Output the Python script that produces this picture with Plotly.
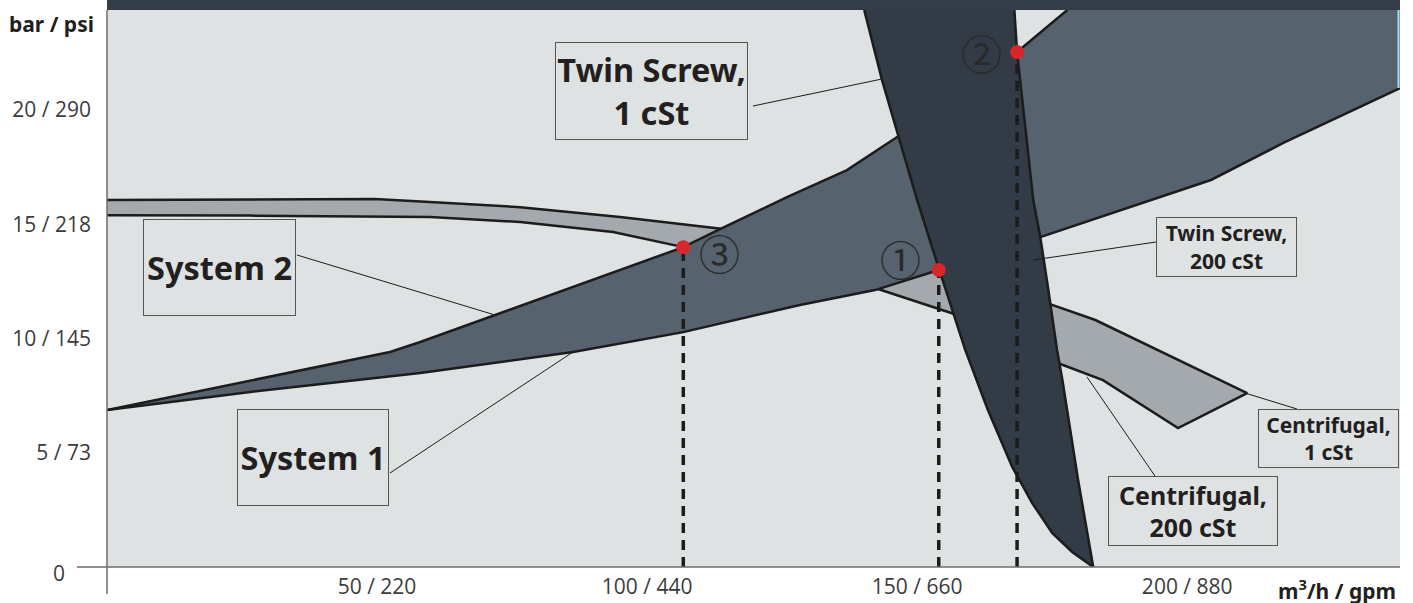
import plotly.graph_objects as go

# ---------------- data (flow m3/h, pressure bar) ----------------
x_tickvals = [50, 100, 150, 200]
x_ticktext = ["50 / 220", "100 / 440", "150 / 660", "200 / 880"]
y_tickvals = [5, 10, 15, 20]
y_ticktext = ["5 / 73", "10 / 145", "15 / 218", "20 / 290"]

# System 1 curve (lower edge of system band)
sys1_x = [0, 26.5, 58.0, 86.3, 106.7, 128.3, 142.2, 154.0, 172.8, 187.6, 204.4, 217.8, 239.4]
sys1_y = [6.87, 7.66, 8.49, 9.41, 10.28, 11.47, 12.12, 13.00, 14.44, 15.62, 16.94, 18.56, 20.96]

# System 2 curve (upper edge of system band)
sys2_x = [0, 52.4, 58.0, 79.6, 106.7, 113.5, 125.9, 137.0, 146.3, 168.5, 177.8]
sys2_y = [6.87, 9.41, 9.85, 11.68, 14.00, 14.79, 16.19, 17.37, 18.82, 22.54, 24.38]

# Centrifugal pump curves
cen1_x = [0, 26.5, 49.6, 59.8, 76.5, 95.0, 114.1, 128.3, 146.9, 153.7, 165.4, 175.0, 183.0, 211.1]
cen1_y = [16.06, 16.08, 16.11, 15.98, 15.75, 15.32, 14.79, 14.09, 13.45, 13.25, 12.34, 11.47, 10.81, 7.61]
cen200_x = [0, 26.5, 59.8, 76.5, 93.7, 106.7, 142.2, 156.3, 177.0, 184.4, 198.3]
cen200_y = [15.40, 15.38, 15.32, 15.10, 14.66, 14.00, 12.21, 11.12, 8.84, 8.18, 6.08]

# Twin screw pump curves
tw200_x = [140.2, 143.5, 146.3, 150.0, 154.1, 158.9, 163.1, 167.6, 171.3, 175.0, 178.7, 182.6]
tw200_y = [24.38, 21.31, 19.04, 16.06, 13.00, 9.50, 6.87, 4.38, 2.80, 1.49, 0.66, 0]
tw1_x = [168.0, 168.5, 171.5, 172.8, 174.3, 175.9, 176.9, 179.8, 182.6]
tw1_y = [24.38, 22.54, 16.06, 14.44, 12.12, 9.50, 8.18, 3.81, 0]

# Operating points
pt_x = [154.0, 168.5, 106.7]
pt_y = [13.00, 22.54, 14.00]
pt_labels = ["①", "②", "③"]

X_MAX, Y_MAX = 239.4, 24.38

# ---------------- styling ----------------
BG = "#dfe2e3"
C_CEN = "#a4a9ad"
C_SYS = "#56626d"
C_TW = "#323b46"
C_TOP = "#343c47"
LINE = "#1c1c1c"
RED = "#d9262c"
TXT = "#231f20"
FONT = "Noto Sans, Open Sans, sans-serif"
TICKFONT = dict(family="Open Sans, sans-serif", size=21, color="#3c3c3c")

W, H = 1413, 610
L, R, T = 107, 13, 10
AXIS_PX = 567               # pixel row of the x axis
B = H - AXIS_PX
PW, PH = W - L - R, H - T - B


def pp(px, py):
    """pixel position -> paper coordinates (for layout decorations)"""
    return (px - L) / PW, (AXIS_PX - py) / PH


fig = go.Figure()

# centrifugal band
fig.add_trace(go.Scatter(x=cen1_x + cen200_x[::-1], y=cen1_y + cen200_y[::-1],
                         fill="toself", fillcolor=C_CEN, mode="lines",
                         line=dict(width=0), hoverinfo="skip"))
fig.add_trace(go.Scatter(x=cen1_x + cen200_x[::-1], y=cen1_y + cen200_y[::-1],
                         mode="lines", line=dict(color=LINE, width=2.5), hoverinfo="skip"))

# system band
sx = sys2_x + [X_MAX] + sys1_x[::-1]
sy = sys2_y + [Y_MAX] + sys1_y[::-1]
fig.add_trace(go.Scatter(x=sx, y=sy, fill="toself", fillcolor=C_SYS, mode="lines",
                         line=dict(width=0), hoverinfo="skip"))
fig.add_trace(go.Scatter(x=sys1_x, y=sys1_y, mode="lines",
                         line=dict(color=LINE, width=2.5), hoverinfo="skip"))
fig.add_trace(go.Scatter(x=sys2_x, y=sys2_y, mode="lines",
                         line=dict(color=LINE, width=2.5), hoverinfo="skip"))

# twin screw band
fig.add_trace(go.Scatter(x=tw200_x + tw1_x[::-1], y=tw200_y + tw1_y[::-1],
                         fill="toself", fillcolor=C_TW, mode="lines",
                         line=dict(width=0), hoverinfo="skip"))
fig.add_trace(go.Scatter(x=tw200_x, y=tw200_y, mode="lines",
                         line=dict(color=LINE, width=2.5), hoverinfo="skip"))
fig.add_trace(go.Scatter(x=tw1_x, y=tw1_y, mode="lines",
                         line=dict(color=LINE, width=2.5), hoverinfo="skip"))

# dashed drop lines
for xv, yv in zip(pt_x, pt_y):
    fig.add_trace(go.Scatter(x=[xv, xv], y=[0, yv], mode="lines",
                             line=dict(color=LINE, width=3.5, dash="10px,7px"),
                             hoverinfo="skip"))

# red operating points
fig.add_trace(go.Scatter(x=pt_x, y=pt_y, mode="markers",
                         marker=dict(color=RED, size=14, line=dict(width=0)),
                         hoverinfo="skip", cliponaxis=False))

shapes = []
# top dark band
shapes.append(dict(type="rect", xref="paper", yref="paper", x0=0, x1=1,
                   y0=1, y1=1 + T / PH, fillcolor=C_TOP, line=dict(width=0), layer="above"))
# axes lines
x0p, _ = pp(77, AXIS_PX)
_, y0p = pp(107, 594)
shapes.append(dict(type="line", xref="paper", yref="paper", x0=x0p, x1=1, y0=0, y1=0,
                   line=dict(color="#6d6d6d", width=1.5), layer="above"))
shapes.append(dict(type="line", xref="paper", yref="paper", x0=0, x1=0, y0=y0p, y1=1,
                   line=dict(color="#6d6d6d", width=1.5), layer="above"))
# light blue edge mark
a = pp(1398.5, 10); b = pp(1398.5, 88)
shapes.append(dict(type="line", xref="paper", yref="paper", x0=a[0], x1=b[0], y0=a[1], y1=b[1],
                   line=dict(color="#a9dcf4", width=2), layer="above"))

# leader lines
leaders = [((753, 106), (882, 79)),
           ((297, 255), (495, 315)),
           ((390, 473), (573, 352)),
           ((1156, 242), (1033, 260)),
           ((1297, 409), (1245, 393)),
           ((1155, 476), (1087, 377))]
for (p1, p2) in leaders:
    a = pp(*p1); b = pp(*p2)
    shapes.append(dict(type="line", xref="paper", yref="paper", x0=a[0], y0=a[1],
                       x1=b[0], y1=b[1], line=dict(color=LINE, width=1), layer="above"))

annotations = []
# labelled boxes: text, left, top, right, bottom, font size
boxes = [("<b>Twin Screw,<br>1 cSt</b>", 555, 42, 748, 140, 32.5),
         ("<b>System 2</b>", 143, 219, 296, 316, 32.5),
         ("<b>System 1</b>", 237, 409, 389, 506, 32.5),
         ("<b>Twin Screw,<br>200 cSt</b>", 1156, 217, 1297, 277, 21),
         ("<b>Centrifugal,<br>1 cSt</b>", 1258, 409, 1399, 468, 21),
         ("<b>Centrifugal,<br>200 cSt</b>", 1108, 476, 1278, 546, 25)]
for text, x1, y1, x2, y2, fs in boxes:
    cx, cy = pp((x1 + x2) / 2, (y1 + y2) / 2)
    annotations.append(dict(text=text, xref="paper", yref="paper", x=cx, y=cy,
                            xanchor="center", yanchor="middle", showarrow=False,
                            width=x2 - x1 - 2, height=y2 - y1 - 2, borderpad=0,
                            bordercolor="#555555", borderwidth=1,
                            font=dict(family=FONT, size=fs, color=TXT)))

# circled numbers next to the points
offsets = [(-38, 12), (-36, 0), (36, -5)]
for xv, yv, lab, (dx, dy) in zip(pt_x, pt_y, pt_labels, offsets):
    annotations.append(dict(text=lab, x=xv, y=yv, xref="x", yref="y", showarrow=False,
                            xshift=dx, yshift=dy, xanchor="center", yanchor="middle",
                            font=dict(family="Noto Sans CJK JP", size=41, color="#2a2a2a")))

# axis titles & zero label
ax, ay = pp(51, 24)
annotations.append(dict(text="<b>bar / psi</b>", xref="paper", yref="paper", x=ax, y=ay,
                        xanchor="center", yanchor="middle", showarrow=False,
                        font=dict(family=FONT, size=21, color=TXT)))
ax, ay = pp(1398, 589)
annotations.append(dict(text="<b>m<sup>3</sup>/h / gpm</b>", xref="paper", yref="paper", x=ax, y=ay,
                        xanchor="right", yanchor="middle", showarrow=False,
                        font=dict(family=FONT, size=21, color=TXT)))
ax, ay = pp(59, 573)
annotations.append(dict(text="0", xref="paper", yref="paper", x=ax, y=ay,
                        xanchor="center", yanchor="middle", showarrow=False,
                        font=TICKFONT))

fig.update_layout(
    width=W, height=H, autosize=False,
    margin=dict(l=L, r=R, t=T, b=B, pad=0),
    paper_bgcolor="white", plot_bgcolor=BG,
    showlegend=False,
    shapes=shapes, annotations=annotations,
    xaxis=dict(range=[0, X_MAX], tickvals=x_tickvals, ticktext=x_ticktext,
               showgrid=False, zeroline=False, showline=False, ticks="",
               ticklabelstandoff=5, tickfont=TICKFONT, fixedrange=True),
    yaxis=dict(range=[0, Y_MAX], tickvals=y_tickvals, ticktext=y_ticktext,
               showgrid=False, zeroline=False, showline=False, ticks="",
               ticklabelstandoff=15, tickfont=TICKFONT, fixedrange=True),
)

fig.write_html("out.html", config={"displayModeBar": False},
               post_script="document.body.style.margin='0px';")
